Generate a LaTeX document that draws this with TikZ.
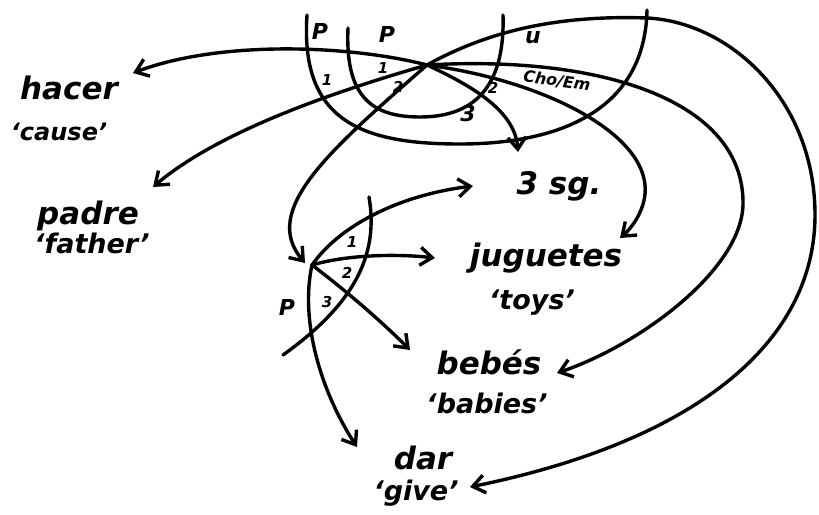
\documentclass[tikz,border=0pt]{standalone}
\usepackage{fontspec}
\setmainfont{DejaVu Sans}
\usetikzlibrary{arrows.meta}
\begin{document}
\begin{tikzpicture}[x=1pt,y=-1pt,
  ln/.style={line width=3.4pt, line cap=round, line join=round},
  arr/.style={ln, -{Straight Barb[length=12pt,width=18pt]}},
  word/.style={font=\fontsize{31}{33}\selectfont\bfseries\itshape, inner sep=0pt},
  gloss/.style={font=\fontsize{27}{29}\selectfont\bfseries\itshape, inner sep=0pt},
  rel/.style={font=\fontsize{22}{24}\selectfont\bfseries\itshape, inner sep=0pt},
  num/.style={font=\fontsize{15}{16}\selectfont\bfseries\itshape, inner sep=0pt}]
\useasboundingbox (0,0) rectangle (819,514);

% centres
\coordinate (top) at (427,65);
\coordinate (low) at (312,265);

% words
\node[word]  (hacer) at (69,88) {hacer};
\node[gloss, font=\fontsize{24}{26}\selectfont\bfseries\itshape] (cause) at (59,132) {‘cause’};
\node[word]  (padre) at (88,216) {padre};
\node[gloss] (father) at (92,243) {‘father’};
\node[word]  (sg) at (559,186) {3 sg.};
\node[word]  (jug) at (546,258) {juguetes};
\node[gloss] (toys) at (532,303) {‘toys’};
\node[word]  (bebes) at (489,362) {bebés};
\node[gloss] (babies) at (487,403) {‘babies’};
\node[word]  (dar) at (423,458) {dar};
\node[gloss] (give) at (416,493) {‘give’};

% arrow tips
\coordinate (tHacer) at (133,73);
\coordinate (tPadre) at (153,187);
\coordinate (tLow) at (305,263);
\coordinate (tSgA) at (518,152);
\coordinate (tJugA) at (620,238);
\coordinate (tBebA) at (557,373);
\coordinate (tDarA) at (470,487);
\coordinate (tSgB) at (473,186);
\coordinate (tJugB) at (435,258);
\coordinate (tBebB) at (410,350);
\coordinate (tDarB) at (357,447);

% R-sign arcs, top
\draw[ln] (307,15) .. controls (300,120) and (360,144) .. (460,144)
                   .. controls (560,144) and (645,110) .. (647,10);
\draw[ln] (348,28) .. controls (345,95) and (370,117) .. (420,117)
                   .. controls (480,117) and (505,80) .. (503,15);
% R-sign arc, low
\draw[ln] (369,197) .. controls (378,250) and (360,300) .. (283,355);

% arcs from top
\draw[arr] (top) .. controls (350,45) and (220,40) .. (tHacer);
\draw[arr] (top) .. controls (340,90) and (220,130) .. (tPadre);
\draw[arr] (top) .. controls (330,150) and (260,210) .. (tLow);
\draw[arr] (top) .. controls (470,85) and (515,110) .. (tSgA);
\draw[arr] (top) .. controls (540,80) and (640,130) .. (645,185)
                 .. controls (647,205) and (635,225) .. (tJugA);
\draw[arr] (top) .. controls (600,55) and (745,100) .. (743,205)
                 .. controls (741,270) and (640,345) .. (tBebA);
\draw[arr] (top) .. controls (490,30) and (560,15) .. (647,18)
                 .. controls (730,22) and (815,100) .. (815,215)
                 .. controls (815,340) and (700,440) .. (tDarA);

% arcs from low
\draw[arr] (low) .. controls (340,225) and (400,195) .. (tSgB);
\draw[arr] (low) .. controls (350,254) and (400,254) .. (tJugB);
\draw[arr] (low) .. controls (345,290) and (380,320) .. (tBebB);
\draw[arr] (low) .. controls (300,320) and (320,390) .. (tDarB);

% labels, top
\node[rel] (pA) at (320,31) {P};
\node[rel] (pB) at (387,34) {P};
\node[rel] (u) at (533,38) {u};
\node[font=\fontsize{16}{17}\selectfont\bfseries\itshape, inner sep=0pt, rotate=-8] (cho) at (557,81) {Cho/Em};
\node[num] (n1a) at (327,80) {1};
\node[num] (n1b) at (383,68) {1};
\node[num] (n2a) at (398,87) {2};
\node[rel] (n3a) at (468,113) {3};
\node[num] (n2b) at (493,88) {2};
% labels, low
\node[rel] (pC) at (287,307) {P};
\node[num] (n1c) at (352,242) {1};
\node[num] (n2c) at (347,273) {2};
\node[num] (n3c) at (327,302) {3};
\end{tikzpicture}
\end{document}
